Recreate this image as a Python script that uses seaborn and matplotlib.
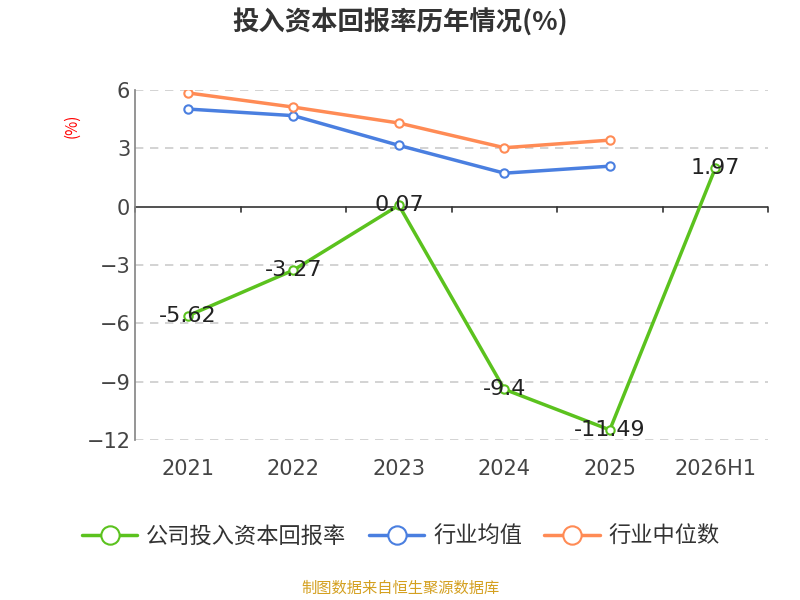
import matplotlib
matplotlib.use("Agg")
import matplotlib.pyplot as plt
import seaborn as sns
import pandas as pd

years = ["2021", "2022", "2023", "2024", "2025", "2026H1"]
company = [-5.62, -3.27, 0.07, -9.4, -11.49, 1.97]
ind_mean = [5.02, 4.68, 3.15, 1.72, 2.08]
ind_median = [5.85, 5.12, 4.3, 3.03, 3.42]

sns.set_theme(style="white")
plt.rcParams['font.family'] = ['Noto Sans CJK SC', 'DejaVu Sans']

GREEN, BLUE, ORANGE = "#5bc21e", "#4a7fe0", "#ff8b55"

fig = plt.figure(figsize=(8, 6), dpi=100)
ax = fig.add_axes([0.169, 0.267, 0.791, 0.583])

df_c = pd.DataFrame({"x": range(len(years)), "y": company})
df_m = pd.DataFrame({"x": range(len(ind_mean)), "y": ind_mean})
df_d = pd.DataFrame({"x": range(len(ind_median)), "y": ind_median})

mk = dict(marker="o", markersize=6, markerfacecolor="white", markeredgewidth=1.5, linewidth=2.5)
sns.lineplot(data=df_c, x="x", y="y", ax=ax, color=GREEN, label="公司投入资本回报率", markeredgecolor=GREEN, **mk)
sns.lineplot(data=df_m, x="x", y="y", ax=ax, color=BLUE, label="行业均值", markeredgecolor=BLUE, **mk)
sns.lineplot(data=df_d, x="x", y="y", ax=ax, color=ORANGE, label="行业中位数", markeredgecolor=ORANGE, **mk)

for i, v in enumerate(company):
    ax.text(i, v, f"{v:g}", ha="center", va="center", fontsize=16, color="#222222",
            family="DejaVu Sans")

ax.set_xlim(-0.5, 5.5)
ax.set_ylim(-12, 6)
ax.set_yticks([6, 3, 0, -3, -6, -9, -12])
ax.set_xticks(range(len(years)))
ax.set_xticklabels(years)
ax.tick_params(axis="both", labelsize=15, colors="#444444", length=0)
for lab in ax.get_xticklabels() + ax.get_yticklabels():
    lab.set_family("DejaVu Sans")
ax.tick_params(axis="x", pad=14)
for y in [6, 3, -3, -6, -9, -12]:
    ax.axhline(y, color="#cccccc", linestyle=(0, (5, 4)), linewidth=1.2, zorder=0)
ax.axhline(0, color="#333333", linewidth=1.2, zorder=1)
for xb in [i - 0.5 for i in range(7)]:
    ax.plot([xb, xb], [0, -0.3], color="#333333", linewidth=1.2, clip_on=False)
for s in ["top", "right", "bottom"]:
    ax.spines[s].set_visible(False)
ax.spines["left"].set_color("#888888")
ax.set_xlabel("")
ax.set_ylabel("")
fig.text(0.09, 0.79, "(%)", color="red", fontsize=11, rotation=90, ha="center", va="center")

ax.legend(loc="upper center", bbox_to_anchor=(0.42, -0.185), ncol=3, frameon=False,
          fontsize=16, handlelength=2.5, markerscale=2.2, columnspacing=1.0, handletextpad=0.4,
          labelcolor="#333333")

fig.text(0.5, 0.962, "投入资本回报率历年情况(%)", ha="center", va="center",
         fontsize=19, fontweight="bold", color="#333333")
fig.text(0.5, 0.005, "制图数据来自恒生聚源数据库", ha="center", va="bottom",
         fontsize=11, color="#d4a020")

fig.savefig("out.png", dpi=100)
